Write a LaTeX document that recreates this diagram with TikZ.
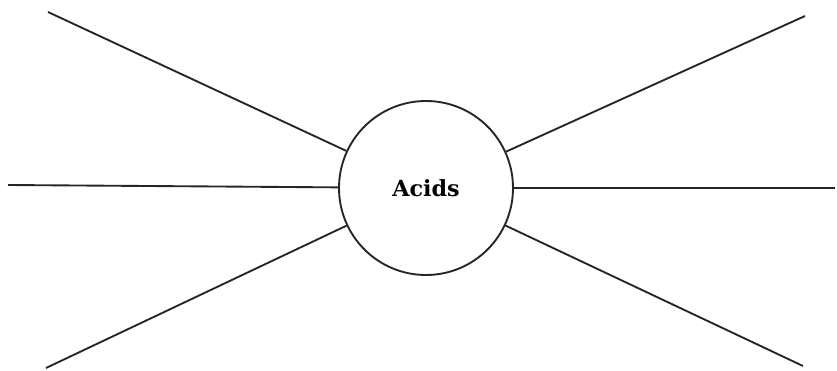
\documentclass[tikz,border=0pt]{standalone}
\usepackage{fontspec}
\newfontfamily\labelfont{DejaVu Serif}
\tikzset{
  spoke/.style={line width=1.6pt, draw=black!85},
  hub/.style={circle, draw=black!85, line width=1.6pt, minimum size=5.22cm, inner sep=0pt,
    font=\labelfont\bfseries\fontsize{19}{22}\selectfont}
}
\begin{document}
\begin{tikzpicture}[x=0.03cm, y=-0.03cm]
  \useasboundingbox (0,0) rectangle (837,371);
  \node[hub] (acids) at (426,188) {Acids};
  \coordinate (tl) at (48,12);
  \coordinate (tr) at (805,16);
  \coordinate (ml) at (8,185);
  \coordinate (mr) at (835,188);
  \coordinate (bl) at (46,368);
  \coordinate (br) at (803,366);
  \foreach \e in {tl,tr,ml,mr,bl,br}
    \draw[spoke] (acids) -- (\e);
\end{tikzpicture}
\end{document}
